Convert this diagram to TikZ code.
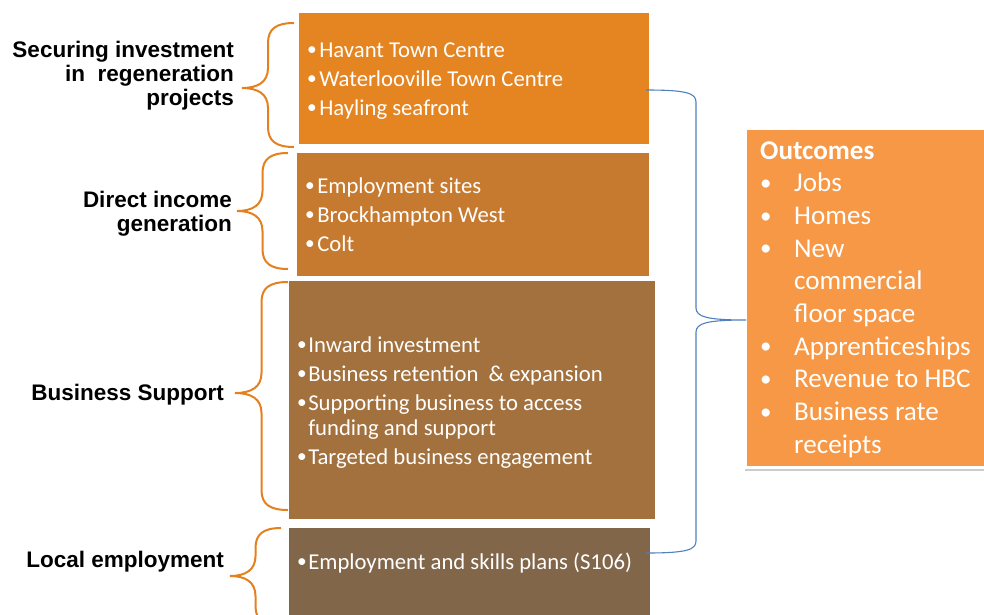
\documentclass[tikz,border=0pt]{standalone}
\usepackage{fontspec}
\setmainfont{Carlito}
\newfontfamily\labfont{Liberation Sans}
\definecolor{cA}{HTML}{E48522}
\definecolor{cB}{HTML}{C67A2F}
\definecolor{cC}{HTML}{A3713D}
\definecolor{cD}{HTML}{81664A}
\definecolor{cOut}{HTML}{F69845}
\definecolor{brOr}{HTML}{E5801F}
\definecolor{brBl}{HTML}{4F81BD}
\newcommand\smbul{{\raisebox{0.05em}{\scalebox{0.85}{•}}}}
% left-pointing curly brace: #1 x right, #2 y top, #3 y bottom, #4 tip y, #5 tip x
\newcommand\leftcurly[5]{%
  \draw[obrace] (#1,#2) .. controls ({(#1+#5)/2+8},#2) and ({(#1+#5)/2},{#2+6}) .. ({(#1+#5)/2},{#2+20})
   -- ({(#1+#5)/2},{#4-20}) .. controls ({(#1+#5)/2},{#4-6}) and ({(#1+#5)/2-10},#4) .. (#5,#4)
   .. controls ({(#1+#5)/2-10},#4) and ({(#1+#5)/2},{#4+6}) .. ({(#1+#5)/2},{#4+20})
   -- ({(#1+#5)/2},{#3-20}) .. controls ({(#1+#5)/2},{#3-6}) and ({(#1+#5)/2+8},#3) .. (#1,#3);}
% right-pointing curly brace: #1 x left, #2 y top, #3 y bottom, #4 tip y, #5 tip x
\newcommand\rightcurly[5]{%
  \draw[bbrace] (#1,#2) .. controls ({(#1+#5)/2-10},#2) and ({(#1+#5)/2},{#2+3}) .. ({(#1+#5)/2},{#2+12})
   -- ({(#1+#5)/2},{#4-12}) .. controls ({(#1+#5)/2},{#4-3}) and ({(#1+#5)/2+12},#4) .. (#5,#4)
   .. controls ({(#1+#5)/2+12},#4) and ({(#1+#5)/2},{#4+3}) .. ({(#1+#5)/2},{#4+12})
   -- ({(#1+#5)/2},{#3-12}) .. controls ({(#1+#5)/2},{#3-3}) and ({(#1+#5)/2-10},#3) .. (#1,#3);}
\begin{document}
\begin{tikzpicture}[x=1pt,y=-1pt,
  box/.style={inner sep=0pt, outer sep=0pt, anchor=north west},
  lst/.style={inner sep=0pt, anchor=base west, text=white, font=\fontsize{22.7}{29}\selectfont},
  lab/.style={inner sep=0pt, anchor=base east, font=\labfont\bfseries\fontsize{22.5}{24}\selectfont},
  obrace/.style={draw=brOr, line width=2pt},
  bbrace/.style={draw=brBl, line width=1.1pt}]
\useasboundingbox[fill=white] (0,0) rectangle (984,614);

% boxes
\node[box, fill=cA, minimum width=350pt, minimum height=131pt] (b1) at (299,13) {};
\node[box, fill=cB, minimum width=352pt, minimum height=123pt] (b2) at (297,153) {};
\node[box, fill=cC, minimum width=366pt, minimum height=238pt] (b3) at (289,281) {};
\node[box, fill=cD, minimum width=361pt, minimum height=90pt] (b4) at (289,528) {};

% box texts
\node[lst] (t1) at (307,57) {\begin{tabular}[t]{@{}l@{\hspace{2.5pt}}l@{}}
\smbul&Havant Town Centre\\ \smbul&Waterlooville Town Centre\\ \smbul&Hayling seafront\end{tabular}};
\node[lst] (t2) at (305,193) {\begin{tabular}[t]{@{}l@{\hspace{2.5pt}}l@{}}
\smbul&Employment sites\\ \smbul&Brockhampton West\\ \smbul&Colt\end{tabular}};
\node[lst] (t3) at (297,352) {\begin{tabular}[t]{@{}l@{\hspace{1.5pt}}l@{}}
\smbul&Inward investment\\ \smbul&Business retention\ \ \& expansion\\ \smbul&Supporting business to access\\[-4pt]
 &funding and support\\ \smbul&Targeted business engagement\end{tabular}};
\node[lst] (t4) at (297,569) {\begin{tabular}[t]{@{}l@{\hspace{1.5pt}}l@{}}
\smbul&Employment and skills plans (S106)\end{tabular}};

% outcomes box
\fill[gray!40] (745,133) rectangle (992,471);
\fill[white] (744,128) rectangle (992,469);
\node[box, fill=cOut, minimum width=246pt, minimum height=336pt] (out) at (747,130) {};
\node[inner sep=0pt, anchor=base west, text=white, font=\fontsize{27.1}{32.7}\selectfont] (ot) at (760,159)
 {\begin{tabular}[t]{@{}p{34pt}@{}l@{}}
 \multicolumn{2}{@{}l@{}}{\textbf{Outcomes}}\\
 \smbul&Jobs\\ \smbul&Homes\\ \smbul&New\\ &commercial\\ &floor space\\ \smbul&Apprenticeships\\ \smbul&Revenue to HBC\\ \smbul&Business rate\\ &receipts
 \end{tabular}};

% labels
\node[lab] (l1) at (234,57) {\begin{tabular}[t]{@{}r@{}}Securing investment\\in\ \ regeneration\\projects\end{tabular}};
\node[lab] (l2) at (232,207) {\begin{tabular}[t]{@{}r@{}}Direct income\\generation\end{tabular}};
\node[lab] (l3) at (224,400) {Business Support};
\node[lab] (l4) at (224,567) {Local employment};

% orange braces
\leftcurly{294}{23}{147}{88}{242}
\leftcurly{288}{153}{269}{211}{237}
\leftcurly{288}{282}{510}{393}{235}
\leftcurly{281}{528}{626}{576}{230}

% blue brace
\rightcurly{646}{90}{553}{320}{746}
\end{tikzpicture}
\end{document}
